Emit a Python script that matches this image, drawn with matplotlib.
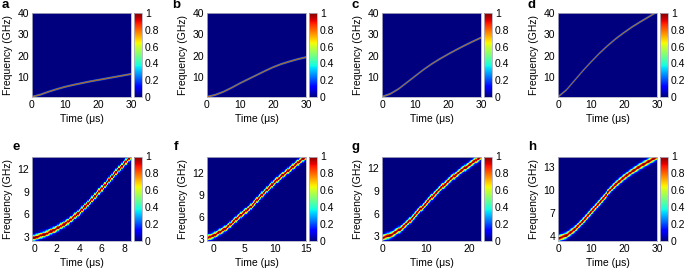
import numpy as np
import matplotlib
matplotlib.use("Agg")
import matplotlib.pyplot as plt

plt.rcParams['font.family'] = ['Liberation Sans', 'DejaVu Sans']
plt.rcParams['font.size'] = 7.5

W, H = 685, 270

# ==============================
# Data
# ==============================
# top row (a-d): chirp centre frequency (GHz) vs time (us)
top_time = [0, 2.5, 5, 7.5, 10, 12.5, 15, 17.5, 20, 22.5, 25, 27.5, 30]
freq_a = [0.6, 1.6, 3.0, 4.2, 5.3, 6.2, 7.0, 7.8, 8.5, 9.2, 9.9, 10.6, 11.3]
freq_b = [0.6, 1.5, 3.0, 4.9, 7.0, 8.9, 10.8, 12.7, 14.5, 16.0, 17.2, 18.3, 19.2]
freq_c = [0.6, 2.0, 4.3, 7.3, 10.3, 13.3, 16.0, 18.4, 20.6, 22.7, 24.7, 26.6, 28.4]
freq_d = [0.6, 3.8, 8.3, 12.8, 17.0, 21.0, 24.6, 27.9, 30.8, 33.5, 35.9, 38.2, 40.5]

# bottom row (e-h): measured spectrogram ridges
time_e = [-0.2, 0, 1, 2, 3, 4, 5, 6, 7, 8, 8.6]
freq_e = [2.8, 2.9, 3.4, 4.1, 5.0, 6.2, 7.7, 9.3, 11.0, 12.6, 13.5]
time_f = [-1, 0, 2, 4, 6, 8, 10, 12, 14, 15]
freq_f = [3.1, 3.4, 4.4, 5.9, 7.3, 9.1, 10.8, 12.2, 13.6, 14.2]
time_g = [-0.2, 0, 2, 4, 6, 8, 10, 12, 14, 16, 18, 20, 22.8]
freq_g = [2.7, 2.8, 3.2, 3.9, 4.9, 6.1, 7.3, 8.5, 9.6, 10.6, 11.5, 12.3, 13.4]
time_h = [0, 2.5, 5, 7.5, 10, 12.5, 15, 17.5, 20, 22.5, 25, 27.5, 30]
freq_h = [3.7, 4.1, 4.9, 6.0, 7.2, 8.4, 9.6, 10.7, 11.6, 12.4, 13.1, 13.7, 14.3]

cbar_ticks = [0, 0.2, 0.4, 0.6, 0.8, 1]
cbar_labels = ['0', '0.2', '0.4', '0.6', '0.8', '1']

panels = [
    # letter, t, f, xlim, ylim, xticks, yticks, sigma, nt, nf
    ('a', top_time, freq_a, (0, 30), (0.5, 40), [0, 10, 20, 30], [10, 20, 30, 40], 0.22, 400, 1600),
    ('b', top_time, freq_b, (0, 30), (0.5, 40), [0, 10, 20, 30], [10, 20, 30, 40], 0.22, 400, 1600),
    ('c', top_time, freq_c, (0, 30), (0.5, 40), [0, 10, 20, 30], [10, 20, 30, 40], 0.22, 400, 1600),
    ('d', top_time, freq_d, (0, 30), (0.5, 40), [0, 10, 20, 30], [10, 20, 30, 40], 0.22, 400, 1600),
    ('e', time_e, freq_e, (-0.2, 8.6), (2.5, 13.6), [0, 2, 4, 6, 8], [3, 6, 9, 12], 0.25, 70, 110),
    ('f', time_f, freq_f, (-1, 15), (2.7, 14.3), [0, 5, 10, 15], [3, 6, 9, 12], 0.25, 80, 115),
    ('g', time_g, freq_g, (-0.2, 22.8), (2.4, 13.5), [0, 10, 20], [3, 6, 9, 12], 0.25, 90, 115),
    ('h', time_h, freq_h, (0, 30), (3.4, 14.4), [0, 10, 20, 30], [4, 7, 10, 13], 0.25, 100, 115),
]

# pixel layout
col_left = [32, 207, 382, 558]
ax_w = 99
row_top = [13, 156.5]
ax_h = [84, 84.5]
letter_x = [[2, 172, 352, 527], [12, 174, 352, 528]]
letter_y = [-1, 141]

fig = plt.figure(figsize=(W / 100, H / 100), dpi=100)
frame_col = '#b0b0c0'

for i, (letter, t, f, xlim, ylim, xt, yt, sigma, nt, nf) in enumerate(panels):
    r, c = divmod(i, 4)
    l = col_left[c]
    top = row_top[r]
    h = ax_h[r]
    ax = fig.add_axes([l / W, 1 - (top + h) / H, ax_w / W, h / H])

    # spectrogram: gaussian ridge around the centre frequency
    tg = np.linspace(xlim[0], xlim[1], nt)
    fg = np.linspace(ylim[0], ylim[1], nf)
    f0 = np.interp(tg, t, f)
    img = np.exp(-0.5 * ((fg[:, None] - f0[None, :]) / sigma) ** 2)

    im = ax.imshow(img, origin='lower', aspect='auto', cmap='jet', vmin=0, vmax=1,
                   extent=[xlim[0], xlim[1], ylim[0], ylim[1]],
                   interpolation='antialiased' if r == 0 else 'nearest')
    ax.set_xlim(xlim)
    ax.set_ylim(ylim)
    ax.set_xticks(xt)
    ax.set_yticks(yt)
    ax.tick_params(direction='in', length=0, labelsize=7.5, pad=2)
    for s in ax.spines.values():
        s.set_color(frame_col)
        s.set_linewidth(0.6)
    ax.set_xlabel('Time (μs)', fontsize=7.5, labelpad=3)
    ax.set_ylabel('Frequency (GHz)', fontsize=7.5, labelpad=3)

    cax = fig.add_axes([(l + ax_w + 3) / W, 1 - (top + h) / H, 8 / W, h / H])
    cb = fig.colorbar(im, cax=cax, ticks=cbar_ticks)
    cb.set_ticklabels(cbar_labels)
    cb.ax.tick_params(length=0, labelsize=7.5, pad=2)
    cb.outline.set_edgecolor(frame_col)
    cb.outline.set_linewidth(0.6)

    fig.text(letter_x[r][c] / W, 1 - letter_y[r] / H, letter, fontsize=9.5,
             fontweight='bold', ha='left', va='top')

fig.savefig('out.png', dpi=100)
